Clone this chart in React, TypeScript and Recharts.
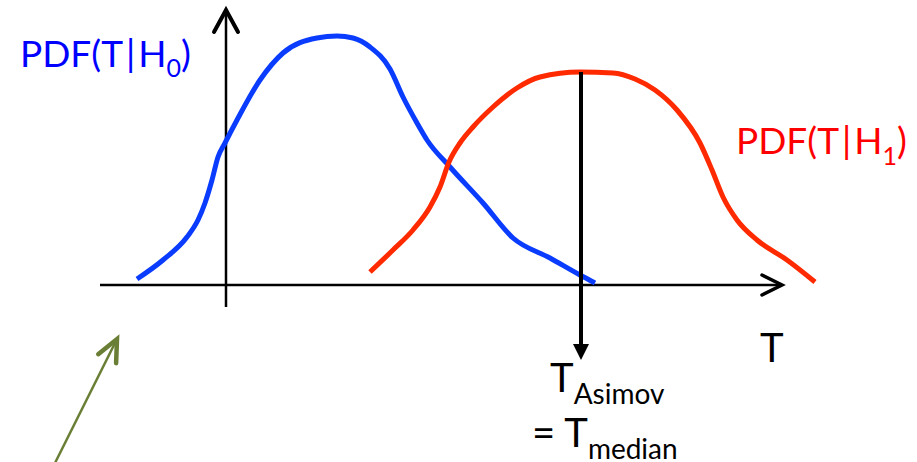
import React from "react";
import { ComposedChart, Line, XAxis, YAxis, ReferenceLine, ReferenceDot } from "recharts";

// Test statistic T under the background-only hypothesis H0
const h0T = [-1.78, -1.26, -0.78, -0.56, -0.42, -0.28, -0.16, -0.02, 0.22, 0.68, 1.14, 1.82, 2.22, 2.54, 2.88, 3.28, 3.54, 3.82, 4.02, 4.48, 5.14, 5.74, 6.48, 7.08, 7.38];
const h0Pdf = [0.024, 0.1, 0.192, 0.26, 0.328, 0.42, 0.512, 0.568, 0.66, 0.82, 0.928, 0.988, 0.996, 0.988, 0.952, 0.864, 0.752, 0.648, 0.58, 0.472, 0.328, 0.188, 0.108, 0.04, 0.008];

// Test statistic T under the signal hypothesis H1
const h1T = [2.88, 3.34, 3.74, 4.08, 4.28, 4.46, 4.68, 4.94, 5.34, 5.82, 6.28, 7.08, 7.74, 8.18, 8.58, 9.02, 9.48, 9.72, 9.94, 10.22, 10.62, 11.22, 11.78];
const h1Pdf = [0.052, 0.14, 0.22, 0.312, 0.392, 0.492, 0.568, 0.632, 0.712, 0.788, 0.832, 0.852, 0.848, 0.824, 0.78, 0.7, 0.568, 0.46, 0.352, 0.26, 0.18, 0.1, 0.012];

// Median of T under H1 (the Asimov value) and the PDF height there
const tMedian = 7.1;
const pdfAtMedian = 0.852;

// Drawn extents of the T and PDF axes
const tAxisRange = [-2.52, 11.12];
const pdfAxisRange = [-0.088, 1.1];

// Pointer arrow from the lower-left corner towards the low-T region
const pointerFrom = { t: -3.44, p: -0.72 };
const pointerTo = { t: -2.18, p: -0.216 };

const h0Data = h0T.map((t, i) => ({ t, pdf: h0Pdf[i] }));
const h1Data = h1T.map((t, i) => ({ t, pdf: h1Pdf[i] }));

const W = 917;
const H = 462;
const FONT = "Lato, 'Open Sans', sans-serif";

type ArrowOpts = { color: string; width: number; head: number; half: number; filled?: boolean; headWidth?: number };

const arrowShape = (o: ArrowOpts) => (props: any) => {
  const { x1, y1, x2, y2 } = props;
  const dx = x2 - x1;
  const dy = y2 - y1;
  const len = Math.hypot(dx, dy) || 1;
  const ux = dx / len;
  const uy = dy / len;
  const bx = x2 - ux * o.head;
  const by = y2 - uy * o.head;
  const lx = bx - uy * o.half;
  const ly = by + ux * o.half;
  const rx = bx + uy * o.half;
  const ry = by - ux * o.half;
  if (o.filled) {
    return (
      <g>
        <line x1={x1} y1={y1} x2={bx} y2={by} stroke={o.color} strokeWidth={o.width} />
        <polygon points={`${x2},${y2} ${lx},${ly} ${rx},${ry}`} fill={o.color} />
      </g>
    );
  }
  return (
    <g>
      <line x1={x1} y1={y1} x2={x2} y2={y2} stroke={o.color} strokeWidth={o.width} />
      <polyline
        points={`${lx},${ly} ${x2},${y2} ${rx},${ry}`}
        fill="none"
        stroke={o.color}
        strokeWidth={o.headWidth ?? o.width}
        strokeLinecap="round"
        strokeLinejoin="miter"
      />
    </g>
  );
};

const textShape = (render: (x: number, y: number) => React.ReactElement) => (props: any) =>
  render(props.cx, props.cy);

export default function App() {
  return (
    <div style={{ position: "absolute", left: 0, top: 0, width: W, height: H, background: "#fff" }}>
      <ComposedChart width={W} height={H} margin={{ top: 0, right: 0, bottom: 0, left: 0 }}>
        <XAxis dataKey="t" type="number" domain={[-4.52, 13.82]} allowDataOverflow hide />
        <YAxis type="number" domain={[-0.708, 1.14]} allowDataOverflow hide />

        {/* T axis */}
        <ReferenceLine
          segment={[{ x: tAxisRange[0], y: 0 }, { x: tAxisRange[1], y: 0 }]}
          ifOverflow="visible"
          shape={arrowShape({ color: "#000", width: 2.5, head: 20, half: 10, headWidth: 3.5 })}
        />
        {/* PDF axis */}
        <ReferenceLine
          segment={[{ x: 0, y: pdfAxisRange[0] }, { x: 0, y: pdfAxisRange[1] }]}
          ifOverflow="visible"
          shape={arrowShape({ color: "#000", width: 2.5, head: 22, half: 12, headWidth: 4 })}
        />

        <Line data={h0Data} dataKey="pdf" type="monotone" stroke="#0a3cff" strokeWidth={5} dot={false} activeDot={false} isAnimationActive={false} />
        <Line data={h1Data} dataKey="pdf" type="monotone" stroke="#ff2a00" strokeWidth={5} dot={false} activeDot={false} isAnimationActive={false} />

        {/* median of T under H1 */}
        <ReferenceLine
          segment={[{ x: tMedian, y: pdfAtMedian }, { x: tMedian, y: -0.3 }]}
          ifOverflow="visible"
          shape={arrowShape({ color: "#000", width: 4, head: 16, half: 8, filled: true })}
        />

        {/* pointer */}
        <ReferenceLine
          segment={[{ x: pointerFrom.t, y: pointerFrom.p }, { x: pointerTo.t, y: pointerTo.p }]}
          ifOverflow="visible"
          shape={arrowShape({ color: "#6a7f35", width: 2.5, head: 22, half: 10, headWidth: 4.5 })}
        />

        <ReferenceDot
          x={-4.12}
          y={0.872}
          r={0}
          ifOverflow="visible"
          shape={textShape((x, y) => (
            <text x={x} y={y} fill="#0000ff" fontSize={37} fontFamily={FONT}>
              PDF(T<tspan dx={3}>|</tspan>
              <tspan dx={3}>H</tspan>
              <tspan fontSize={25} dy={10}>0</tspan>
              <tspan dy={-10}>)</tspan>
            </text>
          ))}
        />
        <ReferenceDot
          x={10.2}
          y={0.524}
          r={0}
          ifOverflow="visible"
          shape={textShape((x, y) => (
            <text x={x} y={y} fill="#ff0000" fontSize={37} fontFamily={FONT}>
              PDF(T<tspan dx={3}>|</tspan>
              <tspan dx={3}>H</tspan>
              <tspan fontSize={25} dy={11}>1</tspan>
              <tspan dy={-11}>)</tspan>
            </text>
          ))}
        />
        <ReferenceDot
          x={10.68}
          y={-0.308}
          r={0}
          ifOverflow="visible"
          shape={textShape((x, y) => (
            <text x={x} y={y} fill="#000" fontSize={40} fontFamily={FONT}>
              T
            </text>
          ))}
        />
        <ReferenceDot
          x={6.48}
          y={-0.428}
          r={0}
          ifOverflow="visible"
          shape={textShape((x, y) => (
            <text x={x} y={y} fill="#000" fontSize={40} fontFamily={FONT}>
              T<tspan fontSize={28} dy={12}>Asimov</tspan>
            </text>
          ))}
        />
        <ReferenceDot
          x={6.12}
          y={-0.648}
          r={0}
          ifOverflow="visible"
          shape={textShape((x, y) => (
            <text x={x} y={y} fill="#000" fontSize={40} fontFamily={FONT}>
              = T<tspan fontSize={28} dy={12}>median</tspan>
            </text>
          ))}
        />
      </ComposedChart>
    </div>
  );
}
